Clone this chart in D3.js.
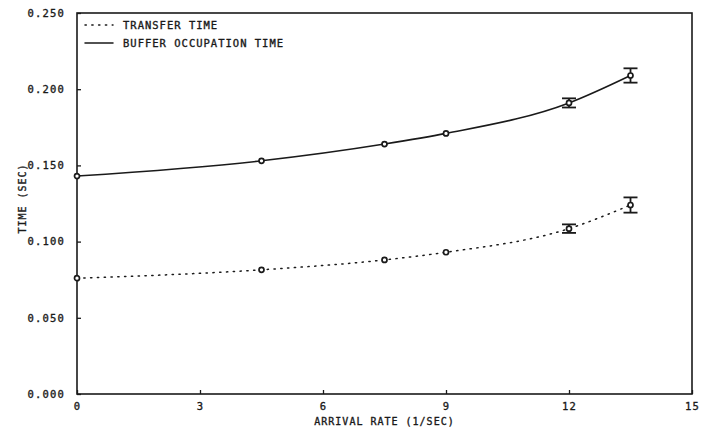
<!DOCTYPE html>
<html>
<head>
<meta charset="utf-8">
<script src="https://cdn.jsdelivr.net/npm/d3@7"></script>
<style>
  body { margin: 0; background: #fff; }
  text { font-family: "DejaVu Sans Mono", monospace; fill: #1a1a1a; stroke: #1a1a1a; stroke-width: 0.35; }
</style>
</head>
<body>
<div class="chart"></div>
<script>
// values
var rates = [0, 4.5, 7.5, 9, 12, 13.5];
var bufferTime = [0.143, 0.153, 0.164, 0.171, 0.191, 0.209];
var bufferErr = [0.0008, 0.0008, 0.0008, 0.0008, 0.003, 0.0047];
var transferTime = [0.076, 0.0815, 0.088, 0.093, 0.1085, 0.124];
var transferErr = [0.0008, 0.0008, 0.0008, 0.0008, 0.0028, 0.005];
var xTicks = [0, 3, 6, 9, 12, 15];
var yTicks = [0, 0.05, 0.10, 0.15, 0.20, 0.25];
var legendLabels = ["TRANSFER TIME", "BUFFER OCCUPATION TIME"];

var svgWidth = 711, svgHeight = 429;
var margin = { top: 13, right: 19, bottom: 35, left: 77 };
var width = svgWidth - margin.left - margin.right;
var height = svgHeight - margin.top - margin.bottom;
var ink = "#1a1a1a";

var svg = d3.select(".chart")
  .append("svg")
  .attr("width", svgWidth)
  .attr("height", svgHeight);

var chartGroup = svg.append("g")
  .attr("transform", `translate(${margin.left}, ${margin.top})`);

var xScale = d3.scaleLinear().domain([0, 15]).range([0, width]);
var yScale = d3.scaleLinear().domain([0, 0.25]).range([height, 0]);

// frame
chartGroup.append("rect")
  .attr("width", width)
  .attr("height", height)
  .attr("fill", "none")
  .attr("stroke", ink)
  .attr("stroke-width", 1.6);

// axes with small inward ticks
var bottomAxis = d3.axisBottom(xScale).tickValues(xTicks).tickSizeInner(-4).tickSizeOuter(0).tickPadding(9);
var leftAxis = d3.axisLeft(yScale).tickValues(yTicks).tickSizeInner(-4).tickSizeOuter(0).tickPadding(12)
  .tickFormat(d3.format(".3f"));

var xAxisG = chartGroup.append("g")
  .attr("transform", `translate(0, ${height})`)
  .call(bottomAxis);
var yAxisG = chartGroup.append("g").call(leftAxis);

[xAxisG, yAxisG].forEach(function(g) {
  g.select(".domain").remove();
  g.selectAll("line").attr("stroke", ink).attr("stroke-width", 1.3);
  g.selectAll("text")
    .attr("font-size", 10.5)
    .attr("letter-spacing", 1.2)
    .attr("fill", ink);
});

// axis titles
chartGroup.append("text")
  .attr("x", width / 2)
  .attr("y", height + 31)
  .attr("text-anchor", "middle")
  .attr("font-size", 10)
  .attr("letter-spacing", 1)
  .text("ARRIVAL RATE (1/SEC)");

chartGroup.append("text")
  .attr("transform", "rotate(-90)")
  .attr("x", -height / 2 + 5)
  .attr("y", -margin.left + 26)
  .attr("text-anchor", "middle")
  .attr("font-size", 10)
  .attr("letter-spacing", 1)
  .text("TIME (SEC)");

// series
var series = [
  { name: legendLabels[0], y: transferTime, err: transferErr, dash: "1.3,5.5", width: 1.5 },
  { name: legendLabels[1], y: bufferTime, err: bufferErr, dash: null, width: 1.6 }
];

var line = d3.line()
  .x(d => xScale(d.x))
  .y(d => yScale(d.y))
  .curve(d3.curveMonotoneX);

series.forEach(function(s) {
  var pts = rates.map((r, i) => ({ x: r, y: s.y[i], e: s.err[i] }));

  chartGroup.append("path")
    .datum(pts)
    .attr("d", line)
    .attr("fill", "none")
    .attr("stroke", ink)
    .attr("stroke-width", s.width)
    .attr("stroke-linecap", "round")
    .attr("stroke-dasharray", s.dash);

  // error bars
  var eb = chartGroup.selectAll(null)
    .data(pts)
    .enter()
    .append("g")
    .attr("stroke", ink)
    .attr("stroke-width", 1.8);
  eb.append("line")
    .attr("x1", d => xScale(d.x)).attr("x2", d => xScale(d.x))
    .attr("y1", d => yScale(d.y - d.e)).attr("y2", d => yScale(d.y + d.e));
  eb.filter(d => d.e > 0.001).append("line")
    .attr("x1", d => xScale(d.x) - 7).attr("x2", d => xScale(d.x) + 7)
    .attr("y1", d => yScale(d.y + d.e)).attr("y2", d => yScale(d.y + d.e));
  eb.filter(d => d.e > 0.001).append("line")
    .attr("x1", d => xScale(d.x) - 7).attr("x2", d => xScale(d.x) + 7)
    .attr("y1", d => yScale(d.y - d.e)).attr("y2", d => yScale(d.y - d.e));

  // markers
  chartGroup.selectAll(null)
    .data(pts)
    .enter()
    .append("circle")
    .attr("cx", d => xScale(d.x))
    .attr("cy", d => yScale(d.y))
    .attr("r", 2.5)
    .attr("fill", "#fff")
    .attr("stroke", ink)
    .attr("stroke-width", 1.7);
});

// legend
var legend = chartGroup.append("g").attr("transform", "translate(8, 12)");
series.forEach(function(s, i) {
  var row = legend.append("g").attr("transform", `translate(0, ${i * 18})`);
  row.append("line")
    .attr("x1", 0).attr("x2", 28)
    .attr("stroke", ink)
    .attr("stroke-width", 1.5)
    .attr("stroke-linecap", "round")
    .attr("stroke-dasharray", s.dash);
  row.append("text")
    .attr("x", 38)
    .attr("dy", "0.35em")
    .attr("font-size", 10.5)
    .attr("letter-spacing", 1)
    .text(s.name);
});
</script>
</body>
</html>
